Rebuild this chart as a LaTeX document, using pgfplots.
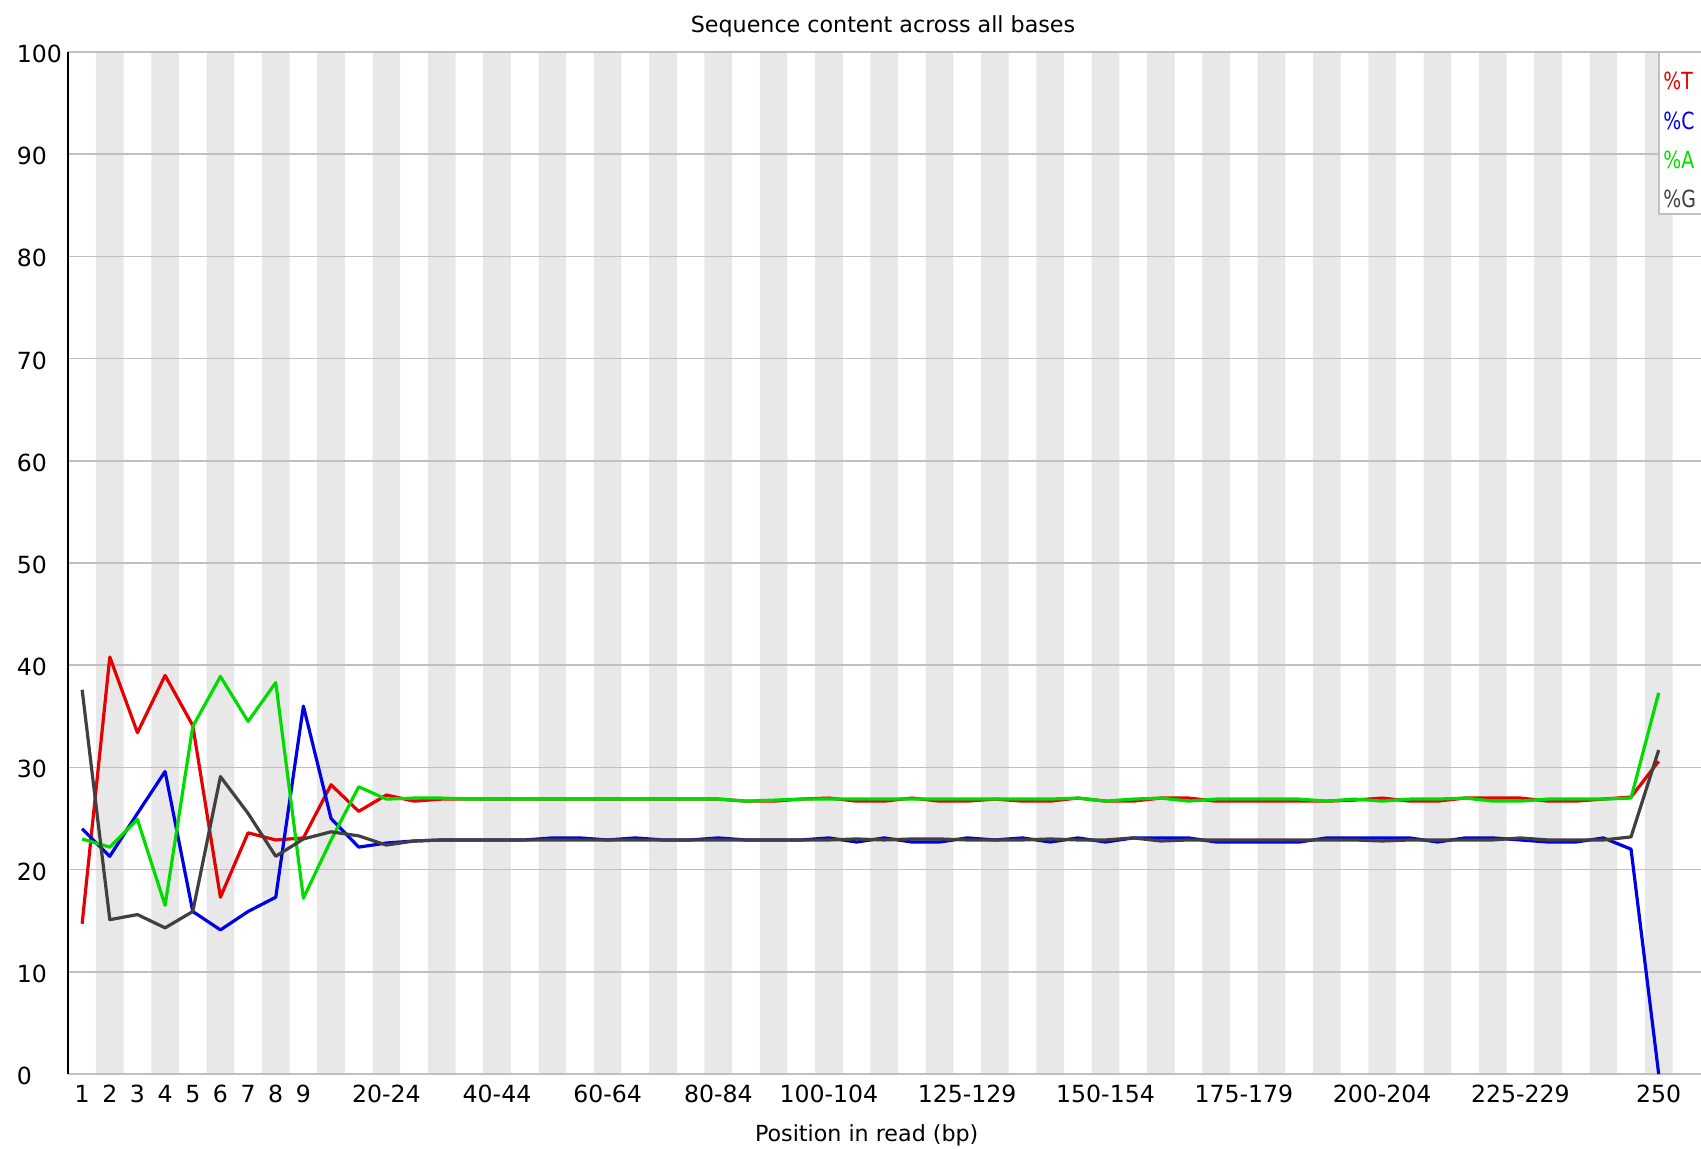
\documentclass[border=0pt]{standalone}
\usepackage{fontspec}
\setmainfont{DejaVu Sans}
\usepackage{pgfplots}
\pgfplotsset{compat=1.18}
\usepackage{pgfplotstable}
\definecolor{tred}{RGB}{230,0,0}
\definecolor{cblue}{RGB}{0,0,230}
\definecolor{agreen}{RGB}{0,220,0}
\definecolor{ggray}{RGB}{64,64,64}
\definecolor{stripegray}{RGB}{232,232,232}
\definecolor{gridgray}{RGB}{192,192,192}
\newcommand\tickfont{\fontsize{11.8}{14}\selectfont}
\newcommand\labfont{\fontsize{11.1}{13}\selectfont}

\pgfplotstableread{
x T C A G
0 14.7 24.0 23.0 37.6
1 40.8 21.3 22.2 15.1
2 33.4 25.5 24.9 15.6
3 39.0 29.6 16.5 14.3
4 34.1 15.9 34.0 15.9
5 17.3 14.1 38.9 29.1
6 23.6 15.9 34.5 25.5
7 22.9 17.3 38.3 21.3
8 23.1 36.0 17.2 23.0
9 28.3 25.0 22.9 23.7
10 25.7 22.2 28.1 23.3
11 27.3 22.6 26.9 22.4
12 26.7 22.8 27.0 22.8
13 26.9 22.9 27.0 22.9
14 26.9 22.9 26.9 22.9
15 26.9 22.9 26.9 22.9
16 26.9 22.9 26.9 22.9
17 26.9 23.1 26.9 22.9
18 26.9 23.1 26.9 22.9
19 26.9 22.9 26.9 22.9
20 26.9 23.1 26.9 22.9
21 26.9 22.9 26.9 22.9
22 26.9 22.9 26.9 22.9
23 26.9 23.1 26.9 22.9
24 26.7 22.9 26.7 22.9
25 26.7 22.9 26.8 22.9
26 26.9 22.9 26.9 22.9
27 27.0 23.1 26.9 22.9
28 26.7 22.7 26.9 23.0
29 26.7 23.1 26.9 22.9
30 27.0 22.7 26.9 23.0
31 26.7 22.7 26.9 23.0
32 26.7 23.1 26.9 22.9
33 26.9 22.9 26.9 22.9
34 26.7 23.1 26.9 22.9
35 26.7 22.7 26.9 23.0
36 27.0 23.1 27.0 22.9
37 26.7 22.7 26.7 22.9
38 26.7 23.1 26.9 23.1
39 27.0 23.1 27.0 22.8
40 27.0 23.1 26.7 22.9
41 26.7 22.7 26.9 22.9
42 26.7 22.7 26.9 22.9
43 26.7 22.7 26.9 22.9
44 26.7 22.7 26.9 22.9
45 26.7 23.1 26.7 22.9
46 26.8 23.1 26.9 22.9
47 27.0 23.1 26.7 22.8
48 26.7 23.1 26.9 22.9
49 26.7 22.7 26.9 22.9
50 27.0 23.1 27.0 22.9
51 27.0 23.1 26.7 22.9
52 27.0 22.9 26.7 23.1
53 26.7 22.7 26.9 22.9
54 26.7 22.7 26.9 22.9
55 26.9 23.1 26.9 22.9
56 27.1 22.0 27.0 23.2
57 30.6 0.0 37.3 31.7
}\basedata

\begin{document}
\begin{tikzpicture}
\begin{axis}[
  set layers,
  at={(34.15pt,37pt)}, anchor=south west,
  scale only axis, width=816.35pt, height=511pt,
  xmin=-0.5, xmax=58.53, ymin=0, ymax=100,
  axis x line=bottom, axis y line=left, axis line style={-},
  x axis line style={draw=gridgray, line width=0.8pt},
  y axis line style={draw=black, line width=1pt},
  ytick={0,10,...,100},
  xtick={0,1,2,3,4,5,6,7,8,11,15,19,23,27,32,37,42,47,52,57},
  xticklabels={1,2,3,4,5,6,7,8,9,20-24,40-44,60-64,80-84,100-104,125-129,150-154,175-179,200-204,225-229,250},
  major tick length=0pt,
  ymajorgrids, grid style={draw=gridgray, line width=0.8pt},
  tick label style={font=\tickfont, text=black},
  yticklabel style={anchor=west, inner sep=0pt, xshift=-25.9pt, yshift=-1pt},
  xticklabel style={anchor=north, inner sep=0pt, yshift=-5.5pt},
  /pgf/number format/assume math mode=true,
  title={Sequence content across all bases},
  title style={at={(axis description cs:0.499,1)}, anchor=base, inner sep=0pt, yshift=3.5pt, font=\labfont},
  xlabel={Position in read (bp)},
  xlabel style={at={(axis description cs:0.489,0)}, anchor=base, inner sep=0pt, yshift=-33.6pt, font=\labfont},
  every axis plot/.append style={line join=round},
]
\addplot[forget plot, on layer=axis background, ybar interval, fill=stripegray, draw=none] coordinates {
(0.5,100) (1.5,0) (2.5,100) (3.5,0) (4.5,100) (5.5,0) (6.5,100) (7.5,0) (8.5,100) (9.5,0)
(10.5,100) (11.5,0) (12.5,100) (13.5,0) (14.5,100) (15.5,0) (16.5,100) (17.5,0) (18.5,100) (19.5,0)
(20.5,100) (21.5,0) (22.5,100) (23.5,0) (24.5,100) (25.5,0) (26.5,100) (27.5,0) (28.5,100) (29.5,0)
(30.5,100) (31.5,0) (32.5,100) (33.5,0) (34.5,100) (35.5,0) (36.5,100) (37.5,0) (38.5,100) (39.5,0)
(40.5,100) (41.5,0) (42.5,100) (43.5,0) (44.5,100) (45.5,0) (46.5,100) (47.5,0) (48.5,100) (49.5,0)
(50.5,100) (51.5,0) (52.5,100) (53.5,0) (54.5,100) (55.5,0) (56.5,100) (57.5,0)
};
\addplot[tred, line width=1.6pt, no markers] table[x=x, y=T] {\basedata};
\addplot[cblue, line width=1.6pt, no markers] table[x=x, y=C] {\basedata};
\addplot[agreen, line width=1.6pt, no markers] table[x=x, y=A] {\basedata};
\addplot[ggray, line width=1.6pt, no markers] table[x=x, y=G] {\basedata};
\end{axis}
\draw[gridgray, line width=0.8pt, fill=white] (829.5pt,548pt) rectangle (880pt,467pt);
\node[anchor=base west, inner sep=0pt, text=tred, font=\tickfont] at (831.5pt,529pt) {\scalebox{0.8}[1]{\%T}};
\node[anchor=base west, inner sep=0pt, text=cblue, font=\tickfont] at (831.5pt,509.3pt) {\scalebox{0.8}[1]{\%C}};
\node[anchor=base west, inner sep=0pt, text=agreen, font=\tickfont] at (831.5pt,489.6pt) {\scalebox{0.8}[1]{\%A}};
\node[anchor=base west, inner sep=0pt, text=ggray, font=\tickfont] at (831.5pt,470pt) {\scalebox{0.8}[1]{\%G}};
\pgfresetboundingbox
\path[use as bounding box] (0,0) rectangle (850.5pt,574pt);
\end{tikzpicture}
\end{document}
